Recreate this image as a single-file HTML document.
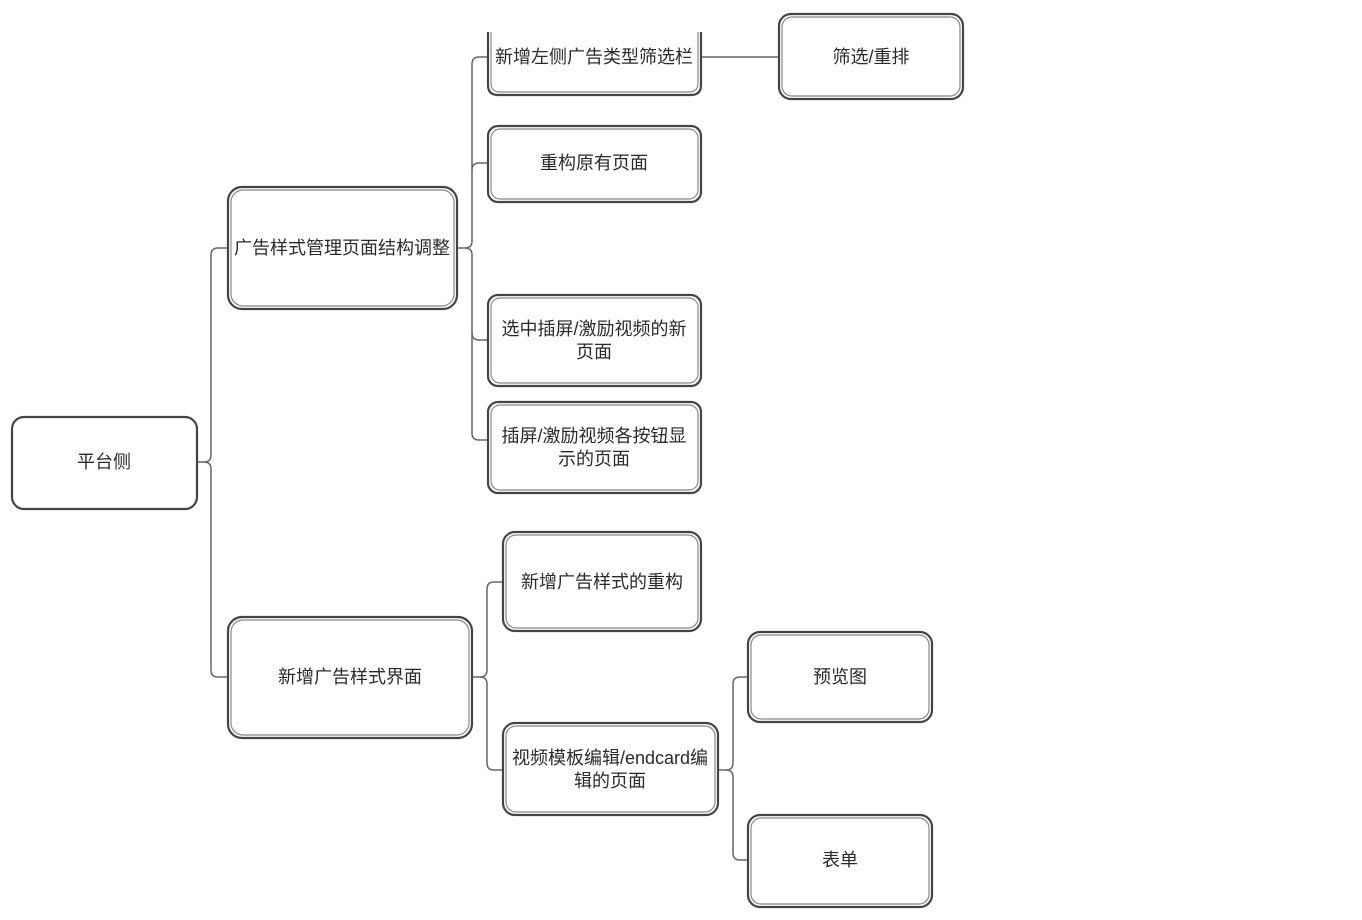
<!DOCTYPE html>
<html><head><meta charset="utf-8"><style>
html,body{margin:0;padding:0;background:#fff;}
svg{display:block;}
text{font-family:"Liberation Sans","Noto Sans CJK SC",sans-serif;font-size:18px;fill:#2a2a2a;text-anchor:middle;}
.b{fill:#fff;stroke:#444;stroke-width:2.2;}
.b2{fill:none;stroke:#888;stroke-width:1.2;}
.l{fill:none;stroke:#666;stroke-width:1.5;}
</style></head><body>
<svg width="1362" height="920" viewBox="0 0 1362 920">
<path class="l" d="M197,462 H204 Q211,462 211,455 V255 Q211,248 218,248 H228"/>
<path class="l" d="M204,462 Q211,462 211,469 V670 Q211,677 218,677 H228"/>
<path class="l" d="M457,248 H465 Q472,248 472,241 V64 Q472,57 479,57 H488"/>
<path class="l" d="M472,170 Q472,163 479,163 H488"/>
<path class="l" d="M465,248 Q472,248 472,255 V433 Q472,440 479,440 H488"/>
<path class="l" d="M472,333 Q472,340 479,340 H488"/>
<path class="l" d="M701,57 H779"/>
<path class="l" d="M472,677 H480 Q487,677 487,670 V589 Q487,582 494,582 H503"/>
<path class="l" d="M480,677 Q487,677 487,684 V763 Q487,770 494,770 H503"/>
<path class="l" d="M718,770 H726 Q733,770 733,763 V684 Q733,677 740,677 H748"/>
<path class="l" d="M726,770 Q733,770 733,777 V853 Q733,860 740,860 H748"/>
<g>
<rect class="b" x="12" y="417" width="185" height="92" rx="12"/>
<rect class="b" x="228" y="187" width="229" height="122" rx="14"/><rect class="b2" x="231" y="190" width="223" height="116" rx="12"/>
<rect class="b" x="228" y="617" width="244" height="121" rx="14"/><rect class="b2" x="231" y="620" width="238" height="115" rx="12"/>
<path class="b" d="M488,32 V85 Q488,95 498,95 H691 Q701,95 701,85 V32"/>
<path class="b2" d="M491,32 V83 Q491,92 500,92 H689 Q698,92 698,83 V32"/>
<rect class="b" x="488" y="126" width="213" height="76" rx="10"/><rect class="b2" x="491" y="129" width="207" height="70" rx="9"/>
<rect class="b" x="488" y="295" width="213" height="91" rx="10"/><rect class="b2" x="491" y="298" width="207" height="85" rx="9"/>
<rect class="b" x="488" y="402" width="213" height="91" rx="10"/><rect class="b2" x="491" y="405" width="207" height="85" rx="9"/>
<rect class="b" x="779" y="14" width="184" height="85" rx="12"/><rect class="b2" x="782" y="17" width="178" height="79" rx="10"/>
<rect class="b" x="503" y="532" width="198" height="99" rx="12"/><rect class="b2" x="506" y="535" width="192" height="93" rx="10"/>
<rect class="b" x="503" y="723" width="215" height="92" rx="12"/><rect class="b2" x="506" y="726" width="209" height="86" rx="10"/>
<rect class="b" x="748" y="632" width="184" height="90" rx="12"/><rect class="b2" x="751" y="635" width="178" height="84" rx="10"/>
<rect class="b" x="748" y="815" width="184" height="92" rx="12"/><rect class="b2" x="751" y="818" width="178" height="86" rx="10"/>
</g>
<text x="104" y="468">平台侧</text>
<text x="342" y="254">广告样式管理页面结构调整</text>
<text x="350" y="683">新增广告样式界面</text>
<text x="594" y="63">新增左侧广告类型筛选栏</text>
<text x="594" y="169">重构原有页面</text>
<text x="594" y="335">选中插屏/激励视频的新</text>
<text x="594" y="358">页面</text>
<text x="594" y="442">插屏/激励视频各按钮显</text>
<text x="594" y="465">示的页面</text>
<text x="871" y="63">筛选/重排</text>
<text x="602" y="588">新增广告样式的重构</text>
<text x="610" y="764">视频模板编辑/endcard编</text>
<text x="610" y="787">辑的页面</text>
<text x="840" y="683">预览图</text>
<text x="840" y="866">表单</text>
</svg>
</body></html>
